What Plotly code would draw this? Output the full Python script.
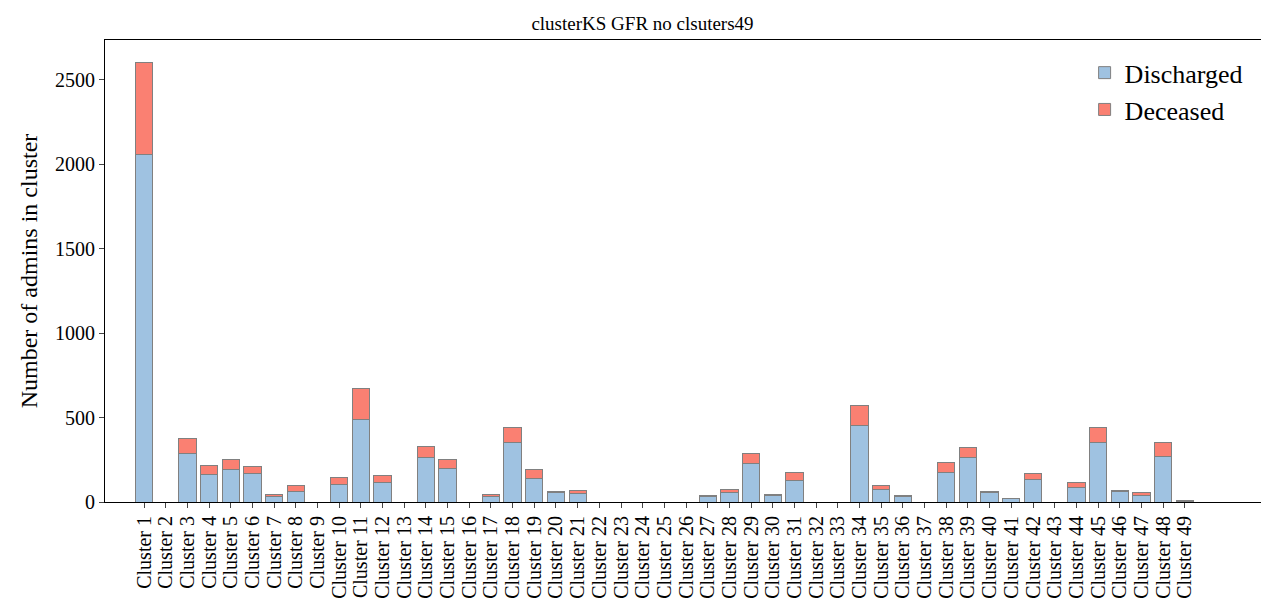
import plotly.graph_objects as go

clusters = [f"Cluster {i}" for i in range(1, 50)]
discharged = [2060, 0, 285, 165, 195, 170, 30, 65, 0, 105, 490, 115, 0, 265, 200, 0, 30, 355, 140, 55,
              50, 0, 0, 0, 0, 0, 35, 55, 225, 40, 125, 0, 0, 450, 75, 30, 0, 175, 265, 55,
              18, 135, 0, 85, 350, 60, 40, 270, 5]
deceased = [540, 0, 90, 50, 55, 40, 15, 30, 0, 40, 180, 40, 0, 65, 50, 0, 15, 85, 50, 10,
            20, 0, 0, 0, 0, 0, 5, 20, 60, 5, 50, 0, 0, 120, 20, 10, 0, 60, 55, 10,
            2, 35, 0, 30, 90, 10, 15, 80, 2]

fig = go.Figure()
fig.add_trace(go.Bar(x=clusters, y=discharged, name="Discharged",
                     marker=dict(color="#9fc2e1", line=dict(color="grey", width=1))))
fig.add_trace(go.Bar(x=clusters, y=deceased, name="Deceased",
                     marker=dict(color="#fa8072", line=dict(color="grey", width=1))))

fig.update_layout(
    barmode="stack", bargap=0.2,
    width=1269, height=612, autosize=False,
    paper_bgcolor="white", plot_bgcolor="white",
    font=dict(family="Liberation Serif", size=20, color="black"),
    title=dict(text="clusterKS GFR no clsuters49", x=0.5, xanchor="center", y=0.985, yanchor="top",
               font=dict(size=19)),
    margin=dict(l=97, r=12, t=32, b=118),
    showlegend=True,
    legend=dict(x=0.985, y=0.98, xanchor="right", yanchor="top", font=dict(size=26),
                traceorder="normal", bgcolor="rgba(0,0,0,0)"),
)
fig.update_xaxes(tickangle=-90, showline=True, linecolor="black", mirror=True,
                 ticks="outside", ticklen=5, range=[-1.8, 51.7], tickmode="array",
                 tickvals=clusters, tickfont=dict(size=20), automargin=False)
fig.update_yaxes(title_text="Number of admins in cluster", range=[0, 2735],
                 tickvals=[0, 500, 1000, 1500, 2000, 2500], showline=True, linecolor="black",
                 mirror=True, ticks="outside", ticklen=5, showgrid=False, zeroline=False,
                 automargin=False, title_standoff=10)

fig.write_html("out.html")
